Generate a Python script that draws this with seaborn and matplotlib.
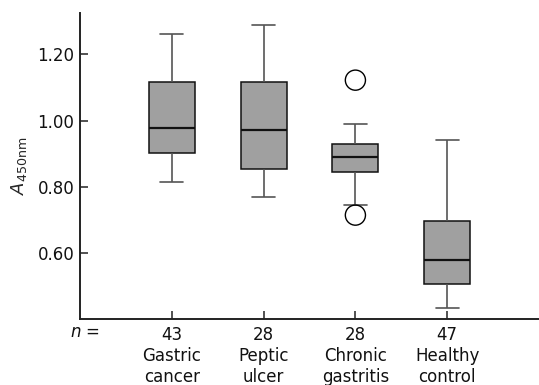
import numpy as np
import pandas as pd
import seaborn as sns
from matplotlib import pyplot as plt

# five-number summaries: whisker low, Q1, median, Q3, whisker high
groups = ["Gastric cancer", "Peptic ulcer", "Chronic gastritis", "Healthy control"]
tick_labels = ["43\nGastric\ncancer", "28\nPeptic\nulcer", "28\nChronic\ngastritis", "47\nHealthy\ncontrol"]
gastric_cancer = [0.814, 0.901, 0.977, 1.116, 1.263]
peptic_ulcer = [0.769, 0.853, 0.971, 1.116, 1.290]
chronic_gastritis = [0.745, 0.844, 0.889, 0.928, 0.989]
healthy_control = [0.433, 0.506, 0.579, 0.696, 0.940]
outlier_groups = ["Chronic gastritis", "Chronic gastritis"]
outlier_values = [1.122, 0.714]

sns.set_style("ticks")
plt.rcParams["font.family"] = ["DejaVu Sans"]
plt.rcParams["xtick.direction"] = "in"
plt.rcParams["ytick.direction"] = "in"

rows = []
for name, vals in zip(groups, [gastric_cancer, peptic_ulcer, chronic_gastritis, healthy_control]):
    for v in vals:
        rows.append({"group": name, "value": v})
df = pd.DataFrame(rows)
out_df = pd.DataFrame({"group": outlier_groups, "value": outlier_values})

fig = plt.figure(figsize=(5.39, 3.85), dpi=100)
ax = fig.add_axes([80 / 539, 1 - 319 / 385, 1 - 80 / 539, (319 - 13) / 385])

sns.boxplot(data=df, x="group", y="value", order=groups, whis=(0, 100), width=0.5,
            color="#a0a0a0", linecolor="black", linewidth=1.1, saturation=1, ax=ax,
            boxprops=dict(facecolor="#a0a0a0", edgecolor="#111111"),
            whiskerprops=dict(color="#555555", linewidth=1.2),
            capprops=dict(color="#555555", linewidth=1.2),
            medianprops=dict(color="#111111", linewidth=1.6))
sns.scatterplot(data=out_df, x="group", y="value", ax=ax, s=210, marker="o",
                facecolor="none", edgecolor="black", linewidth=1.0, zorder=5)

ax.set_xlim(-1, 4)
ax.set_ylim(0.40, 1.325)
ax.set_yticks([0.6, 0.8, 1.0, 1.2])
ax.set_yticklabels(["0.60", "0.80", "1.00", "1.20"])
ax.set_xticks(range(len(groups)))
ax.set_xticklabels(tick_labels, linespacing=1.2)
ax.tick_params(axis="both", labelsize=12, length=6, width=1.2, color="#333333", labelcolor="#111111")
ax.tick_params(axis="x", pad=5)
ax.tick_params(axis="y", pad=4)
ax.set_xlabel("")
ax.set_ylabel(r"$A_{\mathrm{450nm}}$", fontsize=13, labelpad=6)
for side in ["left", "bottom"]:
    ax.spines[side].set_linewidth(1.4)
    ax.spines[side].set_color("#222222")
sns.despine(ax=ax)

fig.text(85 / 539, 1 - 332 / 385, "$n$ =", ha="center", va="center", fontsize=12, color="#111111")

fig.savefig("out.png", dpi=100)
